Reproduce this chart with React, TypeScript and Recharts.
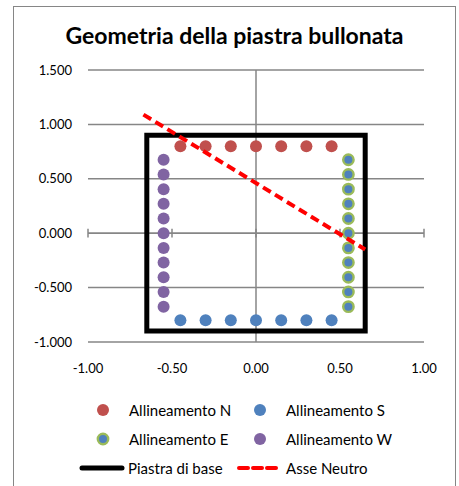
import React from "react";
import { ScatterChart, Scatter, XAxis, YAxis, CartesianGrid, ReferenceLine } from "recharts";

// axis ticks
const xTicks = [-1, -0.5, 0, 0.5, 1];
const yTicks = [-1, -0.5, 0, 0.5, 1, 1.5];

// bolt rows
const northBolts = [
  { x: -0.45, y: 0.8 }, { x: -0.3, y: 0.8 }, { x: -0.15, y: 0.8 }, { x: 0, y: 0.8 },
  { x: 0.15, y: 0.8 }, { x: 0.3, y: 0.8 }, { x: 0.45, y: 0.8 },
];
const southBolts = [
  { x: -0.45, y: -0.8 }, { x: -0.3, y: -0.8 }, { x: -0.15, y: -0.8 }, { x: 0, y: -0.8 },
  { x: 0.15, y: -0.8 }, { x: 0.3, y: -0.8 }, { x: 0.45, y: -0.8 },
];
const eastBolts = [
  { x: 0.55, y: 0.675 }, { x: 0.55, y: 0.54 }, { x: 0.55, y: 0.405 }, { x: 0.55, y: 0.27 },
  { x: 0.55, y: 0.135 }, { x: 0.55, y: 0 }, { x: 0.55, y: -0.135 }, { x: 0.55, y: -0.27 },
  { x: 0.55, y: -0.405 }, { x: 0.55, y: -0.54 }, { x: 0.55, y: -0.675 },
];
const westBolts = [
  { x: -0.55, y: 0.675 }, { x: -0.55, y: 0.54 }, { x: -0.55, y: 0.405 }, { x: -0.55, y: 0.27 },
  { x: -0.55, y: 0.135 }, { x: -0.55, y: 0 }, { x: -0.55, y: -0.135 }, { x: -0.55, y: -0.27 },
  { x: -0.55, y: -0.405 }, { x: -0.55, y: -0.54 }, { x: -0.55, y: -0.675 },
];

// base plate outline and neutral axis
const plate = [
  { x: -0.65, y: 0.9 }, { x: 0.65, y: 0.9 }, { x: 0.65, y: -0.9 }, { x: -0.65, y: -0.9 }, { x: -0.65, y: 0.9 },
];
const neutralAxis = [{ x: -0.67, y: 1.09 }, { x: 0.65, y: -0.15 }];

const FONT = "Lato, 'Open Sans', sans-serif";
const GRID = "#868686";

const dot = (fill: string, stroke?: string) => (p: any) =>
  <circle cx={p.cx} cy={p.cy} r={stroke ? 5.2 : 6} fill={fill} stroke={stroke || "none"} strokeWidth={stroke ? 2.4 : 0} />;

const noDot = () => null;

function LegendItem({ x, y, label, icon }: { x: number; y: number; label: string; icon: React.ReactNode }) {
  return (
    <div style={{ position: "absolute", left: x, top: y - 10, height: 20, display: "flex", alignItems: "center" }}>
      {icon}
      <span style={{ fontSize: 15, marginLeft: 1 }}>{label}</span>
    </div>
  );
}

const circleIcon = (fill: string, stroke?: string) => (
  <svg width={40} height={20}>
    <circle cx={15} cy={10} r={stroke ? 5.2 : 6} fill={fill} stroke={stroke || "none"} strokeWidth={stroke ? 2.4 : 0} />
  </svg>
);

export default function App() {
  return (
    <div style={{ position: "absolute", left: 0, top: 0, width: 459, height: 486, background: "#fff", fontFamily: FONT, color: "#000", overflow: "hidden" }}>
      <div style={{ position: "absolute", left: 13, top: 6, width: 441, height: 490, border: `1.5px solid ${GRID}` }} />
      <div style={{ position: "absolute", left: 13, top: 21, width: 443, textAlign: "center", fontSize: 23, fontWeight: 700 }}>
        Geometria della piastra bullonata
      </div>
      <div style={{ position: "absolute", left: 0, top: 0 }}>
        <ScatterChart width={459} height={400} margin={{ top: 70, right: 35, bottom: 28, left: 13 }}>
          <CartesianGrid vertical={false} stroke={GRID} strokeWidth={1.5} />
          <XAxis
            type="number"
            dataKey="x"
            domain={[-1, 1]}
            ticks={xTicks}
            tickFormatter={(v: number) => v.toFixed(2)}
            axisLine={false}
            tickLine={false}
            tickMargin={16}
            height={30}
            tick={{ fill: "#000", fontSize: 13, fontFamily: FONT }}
          />
          <YAxis
            type="number"
            dataKey="y"
            domain={[-1, 1.5]}
            ticks={yTicks}
            tickFormatter={(v: number) => v.toFixed(3)}
            axisLine={false}
            tickLine={false}
            tickMargin={10}
            width={75}
            tick={{ fill: "#000", fontSize: 13, fontFamily: FONT }}
          />
          <ReferenceLine x={0} stroke={GRID} strokeWidth={1.5} />
          <ReferenceLine y={0} stroke={GRID} strokeWidth={1.5} />
          {xTicks.map((t) => (
            <ReferenceLine key={t} segment={[{ x: t, y: -0.04 }, { x: t, y: 0.04 }]} stroke={GRID} strokeWidth={1.5} />
          ))}
          <Scatter data={plate} line={{ stroke: "#000", strokeWidth: 5, strokeLinecap: "square" } as any} shape={noDot} isAnimationActive={false} />
          <Scatter data={northBolts} shape={dot("#C0504D")} isAnimationActive={false} />
          <Scatter data={southBolts} shape={dot("#4F81BD")} isAnimationActive={false} />
          <Scatter data={eastBolts} shape={dot("#4F81BD", "#9BBB59")} isAnimationActive={false} />
          <Scatter data={westBolts} shape={dot("#8064A2")} isAnimationActive={false} />
          <Scatter data={neutralAxis} line={{ stroke: "#FF0000", strokeWidth: 4, strokeDasharray: "9 5" } as any} shape={noDot} isAnimationActive={false} />
        </ScatterChart>
      </div>
      <LegendItem x={88} y={410} label="Allineamento N" icon={circleIcon("#C0504D")} />
      <LegendItem x={245} y={410} label="Allineamento S" icon={circleIcon("#4F81BD")} />
      <LegendItem x={88} y={439} label="Allineamento E" icon={circleIcon("#4F81BD", "#9BBB59")} />
      <LegendItem x={245} y={439} label="Allineamento W" icon={circleIcon("#8064A2")} />
      <LegendItem
        x={78}
        y={468}
        label="Piastra di base"
        icon={<svg width={49} height={20}><line x1={4} y1={10} x2={44} y2={10} stroke="#000" strokeWidth={5} strokeLinecap="round" /></svg>}
      />
      <LegendItem
        x={236}
        y={468}
        label="Asse Neutro"
        icon={<svg width={49} height={20}><line x1={3} y1={10} x2={43} y2={10} stroke="#FF0000" strokeWidth={4} strokeDasharray="9 5" strokeLinecap="round" /></svg>}
      />
    </div>
  );
}
